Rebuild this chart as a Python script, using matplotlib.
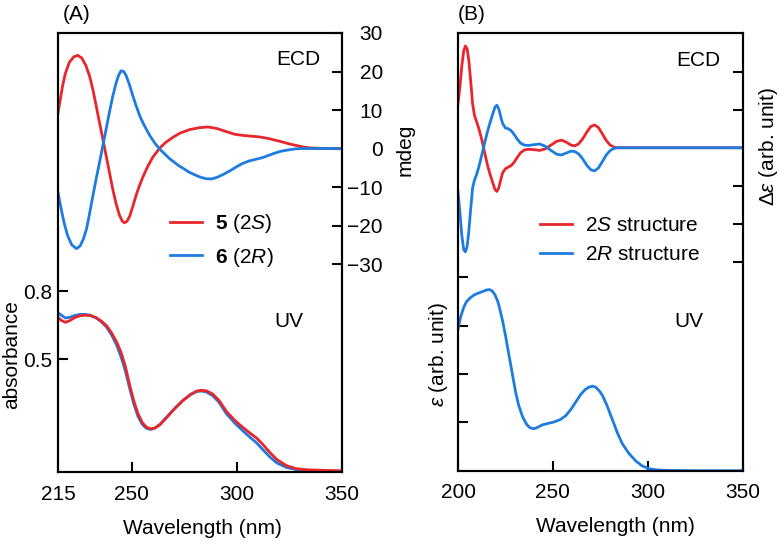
import matplotlib

matplotlib.use("Agg")
import matplotlib.pyplot as plt

plt.rcParams["font.family"] = ["Liberation Sans", "DejaVu Sans"]
plt.rcParams["mathtext.fontset"] = "custom"
plt.rcParams["mathtext.rm"] = "Liberation Sans"
plt.rcParams["mathtext.it"] = "Liberation Sans:italic"
plt.rcParams["mathtext.bf"] = "Liberation Sans:bold"

RED = "#e8262c"
BLUE = "#1e7be0"

# (A) measured ECD, mdeg
ecd_5_nm = [215, 216, 217.2, 218.5, 220.4, 222.5, 224.4, 226.3, 228.3, 230, 231.5, 233,
            234.7, 236.3, 237.9, 239.5, 241, 242.6, 244.2, 245.5, 246.6, 247.8, 249.2,
            250.8, 252.2, 253.7, 255.5, 257.7, 260, 263.2, 266, 269.6, 273, 277.5, 282,
            286.3, 290.5, 295, 299, 303, 307, 311, 315, 318, 321, 325, 329, 332, 335,
            340, 345, 350]
ecd_5 = [9.2, 12.5, 16.3, 19.5, 22.4, 23.8, 24.2, 23.5, 21.5, 18.8, 15.5, 11.5,
         6.8, 2.5, -1.9, -6.3, -10.5, -14.3, -17.3, -18.8, -19.3, -18.9, -17.4,
         -14.6, -12.0, -9.7, -7.2, -4.6, -2.3, 0.0, 1.5, 2.9, 4.0, 4.9, 5.4,
         5.6, 5.2, 4.4, 3.7, 3.4, 3.2, 3.0, 2.6, 2.2, 1.8, 1.2, 0.7, 0.35, 0.15,
         0.05, 0.0, 0.0]

ecd_6_nm = [215, 216, 217, 218, 219.5, 221.5, 223.8, 225.5, 227, 228.5, 229.8, 231.5,
            233.1, 234.7, 236.3, 237.9, 239.4, 241, 242.6, 243.8, 245, 246.3, 247.5,
            249, 250.5, 252.2, 254, 256, 258.5, 261, 264, 268, 272, 277.5, 282, 285,
            288, 291, 294, 297, 300, 303, 306, 309, 312, 315, 318, 321, 324, 327, 330,
            350]
ecd_6 = [-11.4, -14.3, -17.0, -19.5, -22.5, -25.0, -26.0, -25.3, -23.6, -21.0, -17.5,
         -12.5, -8.0, -3.7, 0.7, 5.1, 9.3, 13.5, 17.0, 19.0, 20.2, 20.0, 18.8,
         16.5, 13.8, 11.0, 8.3, 6.0, 3.5, 1.4, -0.5, -2.6, -4.3, -6.2, -7.3, -7.8,
         -7.9, -7.4, -6.6, -5.7, -4.7, -3.8, -3.2, -2.8, -2.4, -1.8, -1.2, -0.7,
         -0.4, -0.15, 0.0, 0.0]

# (A) measured UV, absorbance
uv_a_nm = [215, 216.5, 218.5, 220.5, 223, 225.5, 228, 230.5, 233, 235.5, 238, 240.5,
           243, 245, 247, 249, 251, 253, 255, 257, 259, 261, 263.5, 266.5, 270, 274,
           278, 281, 283, 285.5, 288.5, 291.5, 295, 299, 303, 306, 309.3, 312, 315.6,
           319, 323.6, 328, 333, 342, 350]
uv_5 = [0.685, 0.672, 0.663, 0.67, 0.684, 0.692, 0.694, 0.692, 0.684, 0.669, 0.649,
        0.616, 0.574, 0.53, 0.47, 0.39, 0.318, 0.262, 0.223, 0.202, 0.195, 0.198,
        0.213, 0.243, 0.279, 0.316, 0.346, 0.361, 0.364, 0.362, 0.348, 0.32, 0.272,
        0.232, 0.2, 0.178, 0.155, 0.13, 0.092, 0.06, 0.033, 0.02, 0.015, 0.012, 0.01]
uv_6 = [0.705, 0.695, 0.682, 0.685, 0.693, 0.698, 0.698, 0.694, 0.683, 0.666, 0.643,
        0.607, 0.56, 0.51, 0.45, 0.375, 0.305, 0.25, 0.215, 0.197, 0.192, 0.198,
        0.215, 0.245, 0.28, 0.317, 0.345, 0.359, 0.361, 0.357, 0.341, 0.312, 0.262,
        0.22, 0.185, 0.16, 0.134, 0.107, 0.072, 0.045, 0.025, 0.016, 0.012, 0.01, 0.008]

# (B) calculated ECD, arb. unit
ecd_calc_nm = [200, 201, 202, 203, 203.9, 204.8, 205.7, 206.7, 207.7, 208.7, 209.7, 211,
               212.5, 214, 215.5, 217, 218.5, 219.5, 220.5, 221.5, 222.5, 223.5, 225,
               226.5, 228, 229.6, 231, 233, 235, 237, 240, 243, 246, 249, 252, 254.5,
               257, 259.5, 261.5, 263.5, 265.5, 268, 270, 272, 274, 276, 278, 280, 282,
               284, 300, 350]
ecd_2s = [1.15, 1.6, 2.15, 2.55, 2.68, 2.6, 2.3, 1.75, 1.15, 0.85, 0.7, 0.5,
          0.22, -0.12, -0.45, -0.72, -0.95, -1.1, -1.15, -1.05, -0.85, -0.66, -0.55,
          -0.51, -0.47, -0.38, -0.27, -0.13, -0.06, -0.04, -0.05, -0.07, -0.03, 0.07,
          0.17, 0.2, 0.15, 0.07, 0.05, 0.1, 0.22, 0.42, 0.56, 0.6, 0.53, 0.37, 0.2,
          0.08, 0.02, 0.0, 0.0, 0.0]
ecd_2r = [-1.15, -1.7, -2.3, -2.68, -2.74, -2.6, -2.2, -1.6, -1.05, -0.85, -0.72, -0.5,
          -0.2, 0.12, 0.42, 0.68, 0.92, 1.07, 1.12, 1.02, 0.82, 0.64, 0.52,
          0.5, 0.45, 0.35, 0.24, 0.12, 0.07, 0.06, 0.08, 0.1, 0.04, -0.07,
          -0.17, -0.19, -0.14, -0.09, -0.1, -0.16, -0.28, -0.47, -0.58, -0.61, -0.53,
          -0.37, -0.2, -0.08, -0.02, 0.0, 0.0, 0.0]

# (B) calculated UV, arb. unit
uv_b_nm = [200, 201.5, 203, 204.5, 206.5, 208.6, 211, 213, 215, 216.5, 218, 219.5, 221,
           222.3, 223.5, 225, 227, 229, 230.5, 232, 234, 236, 237.5, 239.3, 241, 244.6,
           247.5, 250.7, 254, 256.8, 259.5, 262, 264.5, 267, 269, 270.9, 272.5, 274.5,
           276.2, 278.5, 281.4, 284, 286.7, 290, 293.7, 297, 300.7, 305, 311, 325, 350]
uv_calc = [2.93, 3.2, 3.38, 3.5, 3.58, 3.64, 3.68, 3.71, 3.74, 3.75, 3.72, 3.64, 3.5,
           3.3, 3.1, 2.8, 2.36, 1.92, 1.6, 1.35, 1.12, 0.97, 0.9, 0.87, 0.88, 0.95,
           0.98, 1.01, 1.06, 1.14, 1.27, 1.42, 1.57, 1.68, 1.73, 1.75, 1.73, 1.65,
           1.55, 1.35, 1.05, 0.78, 0.55, 0.36, 0.2, 0.1, 0.04, 0.015, 0.005, 0.0, 0.0]

LW = 2.0
FS = 15


def style_axes(ax):
    for spine in ax.spines.values():
        spine.set_linewidth(1.5)
    ax.tick_params(direction="in", length=7, width=1.5, labelsize=FS)


fig = plt.figure(figsize=(7.79, 5.42), dpi=100)

# ---------- panel A ----------
ax_a = fig.add_axes([58 / 779, 70 / 542, 284 / 779, 439 / 542])
ax_a2 = ax_a.twinx()
style_axes(ax_a)
style_axes(ax_a2)

ax_a.plot(uv_a_nm, uv_6, color=BLUE, lw=LW)
ax_a.plot(uv_a_nm, uv_5, color=RED, lw=LW)
ax_a.set_xlim(215, 350)
ax_a.set_ylim(0.005, 1.935)
ax_a.set_xticks([215, 250, 300, 350])
ax_a.set_yticks([0.5, 0.8])
ax_a.tick_params(axis="y", pad=4)
ax_a.tick_params(axis="x", pad=9)

ax_a2.plot(ecd_5_nm, ecd_5, color=RED, lw=LW, label=r"$\mathbf{5}$ (2$S$)")
ax_a2.plot(ecd_6_nm, ecd_6, color=BLUE, lw=LW, label=r"$\mathbf{6}$ (2$R$)")
ax_a2.set_ylim(-84, 30)
ax_a2.set_yticks([-30, -20, -10, 0, 10, 20, 30])
ax_a2.tick_params(axis="y", pad=29.5)
for lab in ax_a2.get_yticklabels():
    lab.set_horizontalalignment("right")

ax_a2.legend(loc="upper left", bbox_to_anchor=(0.394, 0.592), frameon=False,
             fontsize=FS, handlelength=1.55, handletextpad=0.63, labelspacing=0.5,
             borderpad=0, borderaxespad=0)
ax_a2.text(0.923, 0.9385, "ECD", transform=ax_a2.transAxes, ha="right", va="center",
           fontsize=15)
ax_a2.text(0.863, 0.342, "UV", transform=ax_a2.transAxes, ha="right", va="center",
           fontsize=15)

# ---------- panel B ----------
ax_b = fig.add_axes([458 / 779, 71.3 / 542, 284.7 / 779, 437.7 / 542])
ax_b2 = ax_b.twinx()
style_axes(ax_b)
style_axes(ax_b2)

ax_b.plot(uv_b_nm, uv_calc, color=BLUE, lw=LW)
ax_b.set_xlim(200, 350)
ax_b.set_ylim(0, 9.06)
ax_b.set_xticks([200, 250, 300, 350])
ax_b.set_yticks([1, 2, 3, 4])
ax_b.tick_params(axis="y", labelleft=False)
ax_b.tick_params(axis="x", pad=9)

ax_b2.plot(ecd_calc_nm, ecd_2s, color=RED, lw=LW, label=r"2$S$ structure")
ax_b2.plot(ecd_calc_nm, ecd_2r, color=BLUE, lw=LW, label=r"2$R$ structure")
ax_b2.set_ylim(-8.5, 3.02)
ax_b2.set_yticks([-3, -2, -1, 0, 1, 2])
ax_b2.tick_params(axis="y", labelright=False)

ax_b2.legend(loc="upper left", bbox_to_anchor=(0.288, 0.582), frameon=False,
             fontsize=FS, handlelength=1.55, handletextpad=0.63, labelspacing=0.5,
             borderpad=0, borderaxespad=0)
ax_b2.text(0.920, 0.938, "ECD", transform=ax_b2.transAxes, ha="right", va="center",
           fontsize=15)
ax_b2.text(0.861, 0.34, "UV", transform=ax_b2.transAxes, ha="right", va="center",
           fontsize=15)

# ---------- labels ----------
fig.text(12 / 779, 1 - 355 / 542, "absorbance", rotation=90, ha="center", va="center",
         fontsize=FS)
fig.text(405 / 779, 1 - 150 / 542, "mdeg", rotation=90, ha="center", va="center",
         fontsize=FS)
fig.text(768 / 779, 1 - 147 / 542, r"$\Delta\varepsilon$ (arb. unit)", rotation=90,
         ha="center", va="center", fontsize=FS)
fig.text(438 / 779, 1 - 355 / 542, r"$\varepsilon$ (arb. unit)", rotation=90,
         ha="center", va="center", fontsize=FS)
fig.text(202 / 779, 1 - 528 / 542, "Wavelength (nm)", ha="center", va="center",
         fontsize=FS)
fig.text(615 / 779, 1 - 527 / 542, "Wavelength (nm)", ha="center", va="center",
         fontsize=FS)
fig.text(77 / 779, 1 - 14 / 542, "(A)", ha="center", va="center", fontsize=FS)
fig.text(472 / 779, 1 - 14 / 542, "(B)", ha="center", va="center", fontsize=FS)

fig.savefig("out.png", dpi=100)
